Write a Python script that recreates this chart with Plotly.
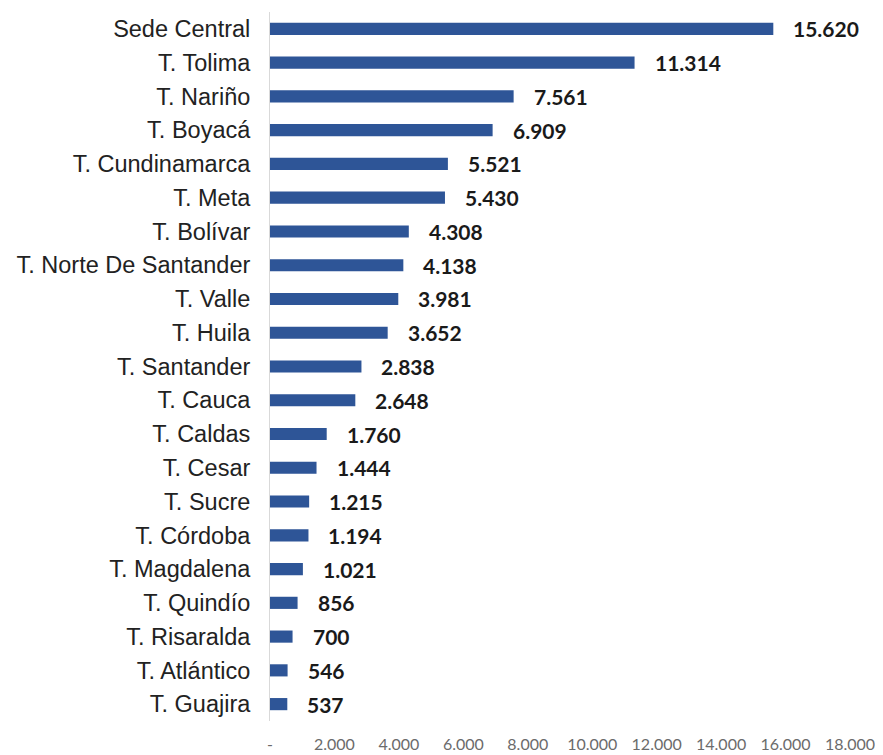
import plotly.graph_objects as go

categories = ["Sede Central", "T. Tolima", "T. Nariño", "T. Boyacá", "T. Cundinamarca",
              "T. Meta", "T. Bolívar", "T. Norte De Santander", "T. Valle", "T. Huila",
              "T. Santander", "T. Cauca", "T. Caldas", "T. Cesar", "T. Sucre",
              "T. Córdoba", "T. Magdalena", "T. Quindío", "T. Risaralda", "T. Atlántico",
              "T. Guajira"]
values = [15620, 11314, 7561, 6909, 5521, 5430, 4308, 4138, 3981, 3652,
          2838, 2648, 1760, 1444, 1215, 1194, 1021, 856, 700, 546, 537]
tick_vals = [0, 2000, 4000, 6000, 8000, 10000, 12000, 14000, 16000, 18000]
tick_text = ["-", "2.000", "4.000", "6.000", "8.000", "10.000", "12.000", "14.000", "16.000", "18.000"]

def fmt(v):
    return f"{v:,}".replace(",", ".")

fig = go.Figure(go.Bar(
    x=values, y=categories, orientation="h",
    marker=dict(color="#2E5597", line=dict(width=0)),
    width=0.36,
))

for c, v in zip(categories, values):
    fig.add_annotation(x=v, y=c, text=fmt(v), showarrow=False, xanchor="left",
                       xshift=18, font=dict(family="Lato", size=21, color="#1a1a1a", weight="bold"))

fig.update_layout(
    width=875, height=747,
    margin=dict(l=262, r=33, t=4, b=34),
    plot_bgcolor="white", paper_bgcolor="white",
    showlegend=False,
    bargap=0.64,
    xaxis=dict(range=[0, 18000], tickvals=tick_vals, ticktext=tick_text, automargin=False,
               showgrid=False, zeroline=False, showline=False,
               tickfont=dict(family="Lato", size=16, color="#6b6b6b"),
               ticklabelstandoff=12),
    yaxis=dict(categoryorder="array", categoryarray=categories[::-1], automargin=False,
               showgrid=False, zeroline=False, showline=True, linecolor="#d9d9d9", linewidth=1,
               tickfont=dict(family="Liberation Sans", size=23.5, color="#222222"),
               ticklabelstandoff=14),
)

fig.write_html("out.html")
